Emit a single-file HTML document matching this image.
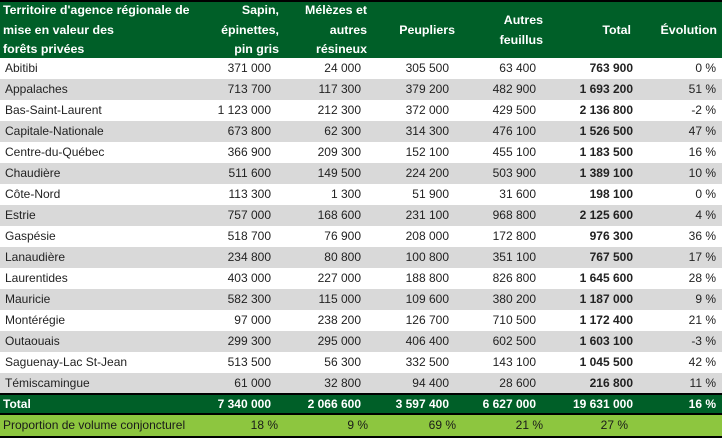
<!DOCTYPE html>
<html><head><meta charset="utf-8"><style>
body{margin:0;width:722px;height:441px;background:#fff;font-family:"Liberation Sans",sans-serif;font-size:12px;position:relative;overflow:hidden}
.r{position:absolute;left:0;width:722px;height:21px;line-height:21px;color:#222}
.r span{position:absolute;top:0;white-space:nowrap}
.g{background:#d9d9d9}
.n{left:5px}
.c1{right:451px}.c2{right:361px}.c3{right:273px}.c4{right:186px}.c5{right:89px}.c6{right:6px}
.b{font-weight:bold}
.h{position:absolute;color:#fff;font-weight:bold;font-size:12.4px;line-height:19.5px;white-space:nowrap}
</style></head><body>
<div style="position:absolute;left:0;top:0;width:722px;height:2px;background:#000"></div>
<div style="position:absolute;left:0;top:2px;width:722px;height:56px;background:#005f28"></div>
<div class="h" style="left:3px;top:1px">Territoire d'agence régionale de<br>mise en valeur des<br>forêts privées</div>
<div class="h" style="right:443px;top:1px;text-align:right">Sapin,<br>épinettes,<br>pin gris</div>
<div class="h" style="right:355px;top:1px;text-align:right">Mélèzes et<br>autres<br>résineux</div>
<div class="h" style="right:267px;top:21px;text-align:right">Peupliers</div>
<div class="h" style="right:179px;top:11px;text-align:right">Autres<br>feuillus</div>
<div class="h" style="right:91px;top:21px;text-align:right">Total</div>
<div class="h" style="right:5px;top:21px;text-align:right">Évolution</div>

<div class="r" style="top:58px"><span class="n">Abitibi</span><span class="c1">371 000</span><span class="c2">24 000</span><span class="c3">305 500</span><span class="c4">63 400</span><span class="c5 b">763 900</span><span class="c6">0 %</span></div>
<div class="r g" style="top:79px"><span class="n">Appalaches</span><span class="c1">713 700</span><span class="c2">117 300</span><span class="c3">379 200</span><span class="c4">482 900</span><span class="c5 b">1 693 200</span><span class="c6">51 %</span></div>
<div class="r" style="top:100px"><span class="n">Bas-Saint-Laurent</span><span class="c1">1 123 000</span><span class="c2">212 300</span><span class="c3">372 000</span><span class="c4">429 500</span><span class="c5 b">2 136 800</span><span class="c6">-2 %</span></div>
<div class="r g" style="top:121px"><span class="n">Capitale-Nationale</span><span class="c1">673 800</span><span class="c2">62 300</span><span class="c3">314 300</span><span class="c4">476 100</span><span class="c5 b">1 526 500</span><span class="c6">47 %</span></div>
<div class="r" style="top:142px"><span class="n">Centre-du-Québec</span><span class="c1">366 900</span><span class="c2">209 300</span><span class="c3">152 100</span><span class="c4">455 100</span><span class="c5 b">1 183 500</span><span class="c6">16 %</span></div>
<div class="r g" style="top:163px"><span class="n">Chaudière</span><span class="c1">511 600</span><span class="c2">149 500</span><span class="c3">224 200</span><span class="c4">503 900</span><span class="c5 b">1 389 100</span><span class="c6">10 %</span></div>
<div class="r" style="top:184px"><span class="n">Côte-Nord</span><span class="c1">113 300</span><span class="c2">1 300</span><span class="c3">51 900</span><span class="c4">31 600</span><span class="c5 b">198 100</span><span class="c6">0 %</span></div>
<div class="r g" style="top:205px"><span class="n">Estrie</span><span class="c1">757 000</span><span class="c2">168 600</span><span class="c3">231 100</span><span class="c4">968 800</span><span class="c5 b">2 125 600</span><span class="c6">4 %</span></div>
<div class="r" style="top:226px"><span class="n">Gaspésie</span><span class="c1">518 700</span><span class="c2">76 900</span><span class="c3">208 000</span><span class="c4">172 800</span><span class="c5 b">976 300</span><span class="c6">36 %</span></div>
<div class="r g" style="top:247px"><span class="n">Lanaudière</span><span class="c1">234 800</span><span class="c2">80 800</span><span class="c3">100 800</span><span class="c4">351 100</span><span class="c5 b">767 500</span><span class="c6">17 %</span></div>
<div class="r" style="top:268px"><span class="n">Laurentides</span><span class="c1">403 000</span><span class="c2">227 000</span><span class="c3">188 800</span><span class="c4">826 800</span><span class="c5 b">1 645 600</span><span class="c6">28 %</span></div>
<div class="r g" style="top:289px"><span class="n">Mauricie</span><span class="c1">582 300</span><span class="c2">115 000</span><span class="c3">109 600</span><span class="c4">380 200</span><span class="c5 b">1 187 000</span><span class="c6">9 %</span></div>
<div class="r" style="top:310px"><span class="n">Montérégie</span><span class="c1">97 000</span><span class="c2">238 200</span><span class="c3">126 700</span><span class="c4">710 500</span><span class="c5 b">1 172 400</span><span class="c6">21 %</span></div>
<div class="r g" style="top:331px"><span class="n">Outaouais</span><span class="c1">299 300</span><span class="c2">295 000</span><span class="c3">406 400</span><span class="c4">602 500</span><span class="c5 b">1 603 100</span><span class="c6">-3 %</span></div>
<div class="r" style="top:352px"><span class="n">Saguenay-Lac St-Jean</span><span class="c1">513 500</span><span class="c2">56 300</span><span class="c3">332 500</span><span class="c4">143 100</span><span class="c5 b">1 045 500</span><span class="c6">42 %</span></div>
<div class="r g" style="top:373px;height:20px"><span class="n">Témiscamingue</span><span class="c1">61 000</span><span class="c2">32 800</span><span class="c3">94 400</span><span class="c4">28 600</span><span class="c5 b">216 800</span><span class="c6">11 %</span></div>
<div style="position:absolute;left:0;top:393px;width:722px;height:2px;background:#000"></div>
<div class="r b" style="top:395px;height:18px;line-height:18px;background:#005f28;color:#fff"><span style="left:3px">Total</span><span class="c1">7 340 000</span><span class="c2">2 066 600</span><span class="c3">3 597 400</span><span class="c4">6 627 000</span><span class="c5">19 631 000</span><span class="c6">16 %</span></div>
<div style="position:absolute;left:0;top:413px;width:722px;height:2px;background:#000"></div>
<div class="r" style="top:415px;background:#8dc63f;color:#1a1a1a"><span style="left:3px">Proportion de volume conjoncturel</span><span class="c1" style="right:444px">18 %</span><span class="c2" style="right:354px">9 %</span><span class="c3" style="right:266px">69 %</span><span class="c4" style="right:179px">21 %</span><span class="c5" style="right:94px">27 %</span></div>
<div style="position:absolute;left:0;top:436px;width:722px;height:2px;background:#000"></div>
</body></html>
